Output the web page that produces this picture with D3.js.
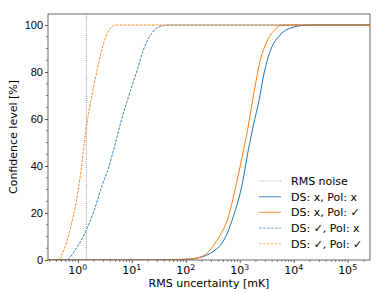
<!DOCTYPE html>
<html>
<head>
<meta charset="utf-8">
<script src="https://cdn.jsdelivr.net/npm/d3@7"></script>
<style>
  body { margin: 0; background: #fff; }
  svg { font-family: "DejaVu Sans", sans-serif; }
</style>
</head>
<body>
<div id="chart"></div>
<script>
// values: [RMS uncertainty in mK, confidence level in %]
const dsNoPolNo = [[0.28,0],[30,0],[60,0.1],[100,0.3],[148,0.6],[282,2.8],[363,4.5],[468,7.1],[603,12],[759,18.4],
  [1122,32.6],[1445,46.8],[1780,57],[2290,68],[2690,77],[3240,85],[4000,91],[5250,95],[6600,97.3],[8500,98.6],
  [11200,99.4],[17400,100],[260000,100]];
const dsNoPolYes = [[0.28,0],[30,0],[60,0.15],[100,0.35],[148,0.7],[245,2.8],[347,7.1],[447,11],[617,18.4],
  [871,32.6],[1175,46.8],[1413,56],[1738,68],[2000,76],[2400,85],[2820,90],[3550,95],[4470,98],[5600,99.8],
  [8000,100],[260000,100]];
const dsYesPolNo = [[0.28,0],[0.63,0],[0.79,2.5],[1.0,6],[1.26,10],[1.45,13],[2.0,21],[2.75,31],[3.8,40],[5.0,50],
  [6.5,60],[8.3,68],[10,74],[12.3,80],[16.2,89],[20,94],[23.4,96.5],[28.2,98.5],[38,99.7],[50,100],[260000,100]];
const dsYesPolYes = [[0.28,0],[0.45,0],[0.5,2],[0.63,8],[0.79,17],[0.87,21],[1.0,29],[1.19,41],[1.26,46],[1.45,57],
  [1.82,70],[2.24,80],[2.75,89],[3.3,95],[4.0,98.5],[4.9,100],[260000,100]];
const rmsNoise = 1.44;

const yTicks = [0, 20, 40, 60, 80, 100];
const xTickExps = [0, 1, 2, 3, 4, 5];

const series = [
  { label: "DS: x, Pol: x", data: dsNoPolNo, color: "#1f77b4", dash: null },
  { label: "DS: x, Pol: \u2713", data: dsNoPolYes, color: "#ff7f0e", dash: null },
  { label: "DS: \u2713, Pol: x", data: dsYesPolNo, color: "#1f77b4", dash: "2.8,1.2" },
  { label: "DS: \u2713, Pol: \u2713", data: dsYesPolYes, color: "#ff7f0e", dash: "2.8,1.2" }
];

const W = 390, H = 293;
const M = { L: 48, R: 20, T: 14, B: 33 };
const FS = 11;

const svg = d3.select("#chart").append("svg")
  .attr("width", W).attr("height", H);

const x = d3.scaleLog().domain([0.28, 260000]).range([M.L, W - M.R]);
const y = d3.scaleLinear().domain([0, 104.7]).range([H - M.B, M.T]);

svg.append("defs").append("clipPath").attr("id", "clip")
  .append("rect").attr("x", M.L).attr("y", M.T)
  .attr("width", W - M.L - M.R).attr("height", H - M.T - M.B);

const plot = svg.append("g").attr("clip-path", "url(#clip)");

// RMS noise line
plot.append("line")
  .attr("x1", x(rmsNoise)).attr("x2", x(rmsNoise))
  .attr("y1", M.T).attr("y2", H - M.B)
  .attr("stroke", "#555").attr("stroke-width", 0.8)
  .attr("stroke-dasharray", "0.8,1.3");

const line = d3.line()
  .x(d => x(d[0])).y(d => y(d[1]))
  .curve(d3.curveMonotoneX);

series.forEach(s => {
  plot.append("path")
    .datum(s.data)
    .attr("d", line)
    .attr("fill", "none")
    .attr("stroke", s.color)
    .attr("stroke-width", s.dash ? 0.9 : 1)
    .attr("stroke-dasharray", s.dash);
});

// axes
const yAxis = d3.axisLeft(y).tickValues(yTicks).tickSize(3).tickPadding(2);
const yg = svg.append("g").attr("transform", "translate(" + M.L + ",0)").call(yAxis);
yg.selectAll("text").attr("font-size", FS).attr("fill", "#000");

const yMinor = d3.range(0, 101, 5).filter(v => v % 20 !== 0);
svg.append("g").selectAll("line").data(yMinor).enter().append("line")
  .attr("x1", M.L - 2).attr("x2", M.L)
  .attr("y1", d => y(d)).attr("y2", d => y(d))
  .attr("stroke", "#333").attr("stroke-width", 0.6);

const xAxis = d3.axisBottom(x).tickValues(xTickExps.map(e => Math.pow(10, e))).tickSize(3).tickFormat("");
const xg = svg.append("g").attr("transform", "translate(0," + (H - M.B) + ")").call(xAxis);

const xMinor = [];
for (let e = -1; e <= 5; e++) {
  for (let k = 2; k <= 9; k++) {
    const v = k * Math.pow(10, e);
    if (v >= 0.28 && v <= 260000) xMinor.push(v);
  }
}
svg.append("g").selectAll("line").data(xMinor).enter().append("line")
  .attr("x1", d => x(d)).attr("x2", d => x(d))
  .attr("y1", H - M.B).attr("y2", H - M.B + 2)
  .attr("stroke", "#333").attr("stroke-width", 0.6);

const xl = svg.append("g").selectAll("text").data(xTickExps).enter().append("text")
  .attr("x", d => x(Math.pow(10, d)))
  .attr("y", H - M.B + 14)
  .attr("text-anchor", "middle")
  .attr("font-size", FS);
xl.append("tspan").text("10");
xl.append("tspan").attr("dy", -4.5).attr("font-size", 7.8).text(d => d);

[xg, yg].forEach(g => {
  g.select(".domain").remove();
  g.selectAll(".tick line").attr("stroke", "#333").attr("stroke-width", 0.8);
});

// frame
svg.append("rect")
  .attr("x", M.L).attr("y", M.T)
  .attr("width", W - M.L - M.R).attr("height", H - M.T - M.B)
  .attr("fill", "none").attr("stroke", "#444").attr("stroke-width", 0.8);

// axis labels
svg.append("text")
  .attr("x", (M.L + W - M.R) / 2).attr("y", H - 6)
  .attr("text-anchor", "middle").attr("font-size", FS)
  .text("RMS uncertainty [mK]");
svg.append("text")
  .attr("transform", "translate(17," + ((M.T + H - M.B) / 2) + ") rotate(-90)")
  .attr("text-anchor", "middle").attr("font-size", FS)
  .text("Confidence level [%]");

// legend
const legendItems = [{ label: "RMS noise", color: "#555", dash: "0.8,1.3", w: 0.8 }]
  .concat(series.map(s => ({ label: s.label, color: s.color, dash: s.dash, w: s.dash ? 0.9 : 1.2 })));
const lg = svg.append("g").attr("transform", "translate(259,181)");
legendItems.forEach((d, i) => {
  const row = lg.append("g").attr("transform", "translate(0," + (i * 15.7) + ")");
  row.append("line").attr("x1", 0).attr("x2", 22).attr("y1", 0).attr("y2", 0)
    .attr("stroke", d.color).attr("stroke-width", d.w)
    .attr("stroke-dasharray", d.dash).attr("opacity", 0.7);
  row.append("text").attr("x", 32).attr("y", 0).attr("dy", "0.35em")
    .attr("font-size", FS).text(d.label);
});
</script>
</body>
</html>
